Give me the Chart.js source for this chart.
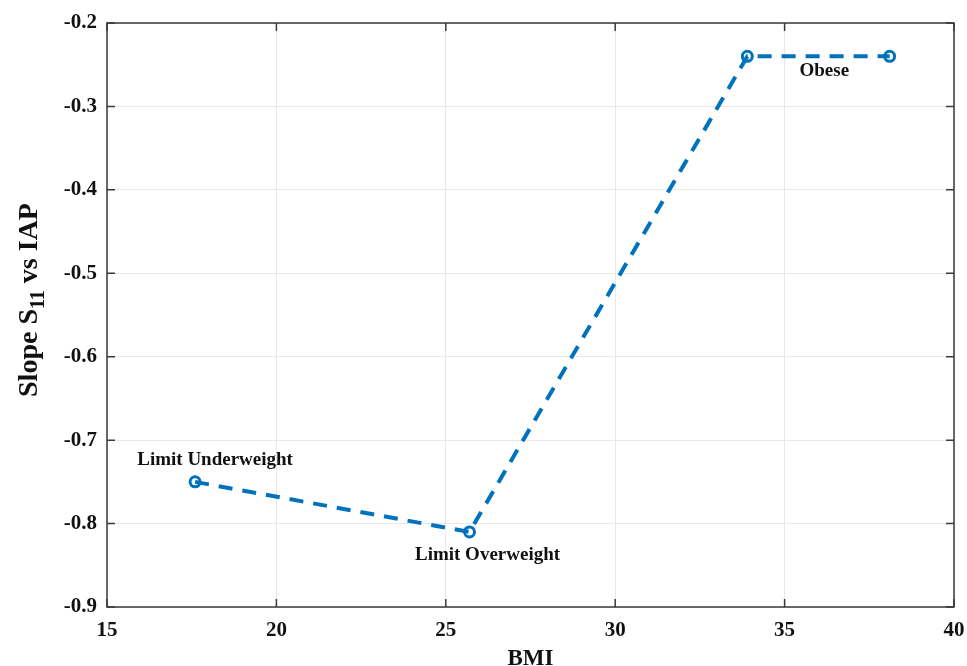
<!DOCTYPE html>
<html>
<head>
<meta charset="utf-8">
<script src="https://cdn.jsdelivr.net/npm/chart.js@4"></script>
<style>
html,body{margin:0;padding:0;background:#fff;}
#wrap{width:967px;height:666px;position:relative;}
</style>
</head>
<body>
<div id="wrap"><canvas id="c" width="967" height="666"></canvas></div>
<script>
const bmi = [17.6, 25.7, 33.9, 38.1];
const slope = [-0.75, -0.81, -0.24, -0.24];
const pointNames = ["Limit Underweight", "Limit Overweight", "Obese", ""];
const xTicks = [15, 20, 25, 30, 35, 40];
const yTicks = [-0.9, -0.8, -0.7, -0.6, -0.5, -0.4, -0.3, -0.2];
const xTitle = "BMI";
const yTitleParts = ["Slope S", "11", " vs IAP"];

const FONT = "'Liberation Serif', 'Times New Roman', serif";
const AXIS = '#3a3a3a';

const overlay = {
  id: 'overlay',
  beforeDatasetsDraw(chart) {
    const {ctx, chartArea: a} = chart;
    ctx.save();
    ctx.strokeStyle = AXIS; ctx.lineWidth = 1.5;
    ctx.strokeRect(a.left, a.top, a.right - a.left, a.bottom - a.top);
    const xs = chart.scales.x, ys = chart.scales.y, L = 8;
    ctx.beginPath();
    xTicks.forEach(v => { const p = xs.getPixelForValue(v);
      ctx.moveTo(p, a.bottom); ctx.lineTo(p, a.bottom - L);
      ctx.moveTo(p, a.top); ctx.lineTo(p, a.top + L); });
    yTicks.forEach(v => { const p = ys.getPixelForValue(v);
      ctx.moveTo(a.left, p); ctx.lineTo(a.left + L, p);
      ctx.moveTo(a.right, p); ctx.lineTo(a.right - L, p); });
    ctx.stroke();
    ctx.restore();
  },
  afterDraw(chart) {
    const {ctx, chartArea: a} = chart;
    const xs = chart.scales.x, ys = chart.scales.y;
    ctx.save();
    ctx.fillStyle = '#111';
    // point name labels
    ctx.font = "bold 19px " + FONT;
    ctx.textAlign = 'center'; ctx.textBaseline = 'middle';
    const offs = [[20, -22], [18, 23], [77, 15], [0, 0]];
    pointNames.forEach((t, i) => {
      if (!t) return;
      const px = xs.getPixelForValue(bmi[i]) + offs[i][0];
      const py = ys.getPixelForValue(slope[i]) + offs[i][1];
      ctx.fillText(t, px, py);
    });
    // x title
    ctx.font = "bold 23px " + FONT;
    ctx.textBaseline = 'alphabetic';
    ctx.fillText(xTitle, (a.left + a.right) / 2, 665);
    // y title with subscript
    ctx.translate(29, (a.top + a.bottom) / 2 - 15);
    ctx.rotate(-Math.PI / 2);
    const big = "bold 28px " + FONT, small = "bold 20px " + FONT;
    ctx.font = big; const w1 = ctx.measureText(yTitleParts[0]).width;
    const w3 = ctx.measureText(yTitleParts[2]).width;
    ctx.font = small; const w2 = ctx.measureText(yTitleParts[1]).width;
    let x0 = -(w1 + w2 + w3) / 2;
    ctx.textAlign = 'left';
    ctx.font = big; ctx.fillText(yTitleParts[0], x0, 8);
    ctx.font = small; ctx.fillText(yTitleParts[1], x0 + w1, 15);
    ctx.font = big; ctx.fillText(yTitleParts[2], x0 + w1 + w2, 8);
    ctx.restore();
  }
};

new Chart(document.getElementById('c'), {
  type: 'line',
  data: {
    datasets: [{
      data: bmi.map((x, i) => ({x: x, y: slope[i]})),
      borderColor: '#0072BD',
      borderWidth: 4,
      borderDash: [14, 10],
      pointStyle: 'circle',
      pointRadius: 5,
      pointBorderWidth: 3,
      pointBorderColor: '#0072BD',
      pointBackgroundColor: 'rgba(255,255,255,0)',
      tension: 0,
      fill: false
    }]
  },
  options: {
    responsive: false,
    animation: false,
    layout: {padding: {left: 0, right: 13, top: 23, bottom: 0}},
    plugins: {legend: {display: false}, tooltip: {enabled: false}},
    scales: {
      x: {
        type: 'linear', min: 15, max: 40,
        afterBuildTicks: s => { s.ticks = xTicks.map(v => ({value: v})); },
        afterFit: s => { s.height = 59; s.paddingLeft = 0; s.paddingRight = 0; },
        grid: {color: '#e8e8e8', lineWidth: 1, drawTicks: false},
        border: {display: false},
        ticks: {padding: 11, color: '#111', font: {family: FONT, weight: 'bold', size: 21}, maxRotation: 0}
      },
      y: {
        type: 'linear', min: -0.9, max: -0.2,
        afterBuildTicks: s => { s.ticks = yTicks.map(v => ({value: v})); },
        afterFit: s => { s.width = 107; s.paddingTop = 0; s.paddingBottom = 0; },
        grid: {color: '#e8e8e8', lineWidth: 1, drawTicks: false},
        border: {display: false},
        ticks: {padding: 10, color: '#111', font: {family: FONT, weight: 'bold', size: 21},
          callback: v => v.toFixed(1)}
      }
    }
  },
  plugins: [overlay]
});
</script>
</body>
</html>
